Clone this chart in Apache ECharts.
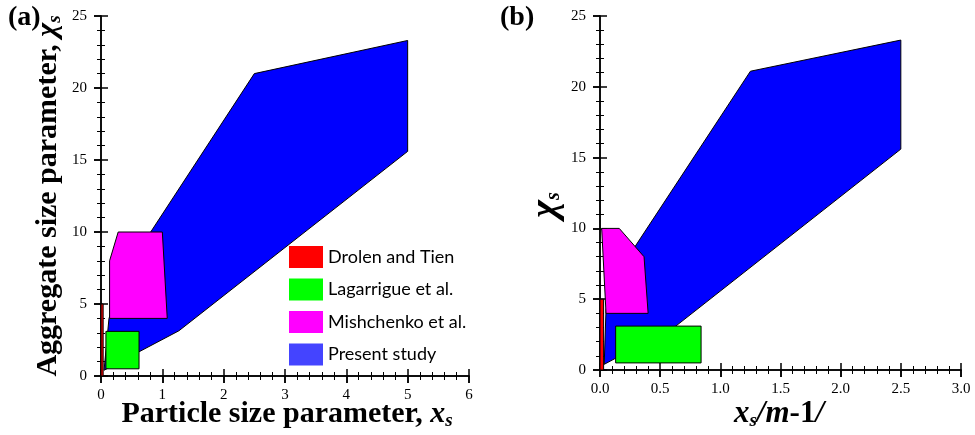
<!DOCTYPE html>
<html>
<head>
<meta charset="utf-8">
<script src="https://cdn.jsdelivr.net/npm/echarts@6/dist/echarts.min.js"></script>
<style>
  html, body { margin: 0; padding: 0; background: #fff; }
  #chart { width: 975px; height: 435px; }
</style>
</head>
<body>
<div id="chart"></div>
<script>
// Panel (a): aggregate size parameter vs particle size parameter x_s
const presentA     = [[0.05, 0.4], [0.13, 4.0], [0.47, 7.8], [0.81, 10], [2.5, 21.0], [5.0, 23.3], [5.0, 15.6], [1.27, 3.14]];
const mishchenkoA  = [[0.14, 4.0], [0.14, 8.0], [0.28, 10], [1.0, 10], [1.08, 4.0]];
const lagarrigueA  = [[0.08, 0.5], [0.08, 3.1], [0.62, 3.1], [0.62, 0.5]];
const drolenA      = [[0.0, 0.0], [0.0, 5.0], [0.035, 5.0], [0.035, 0.0]];

// Panel (b): same regions against x_s/|m-1|
const presentB     = [[0.035, 0.4], [0.05, 4.3], [0.22, 7.8], [1.25, 21.1], [2.5, 23.3], [2.5, 15.6], [0.63, 3.1]];
const mishchenkoB  = [[0.05, 4.0], [0.014, 10], [0.16, 10], [0.366, 8.0], [0.40, 4.0]];
const lagarrigueB  = [[0.13, 0.5], [0.13, 3.1], [0.84, 3.1], [0.84, 0.5]];
const drolenB      = [[0.0, 0.0], [0.0, 5.0], [0.03, 5.0], [0.03, 0.0]];

const seriesNames = ['Drolen and Tien', 'Lagarrigue et al.', 'Mishchenko et al.', 'Present study'];
const xTicksA = [0, 1, 2, 3, 4, 5, 6];
const xTicksB = [0.0, 0.5, 1.0, 1.5, 2.0, 2.5, 3.0];
const yTicks  = [0, 5, 10, 15, 20, 25];

const SERIF = '"Liberation Serif", "Times New Roman", serif';
const colors = { drolen: '#ff0000', lagarrigue: '#00ff00', mishchenko: '#ff00ff', present: '#0000ff' };

const chart = echarts.init(document.getElementById('chart'), null, { renderer: 'canvas' });

const tickLabel = (fmt) => ({
  show: true, color: '#000', fontFamily: SERIF, fontSize: 15, fontWeight: 'normal',
  formatter: fmt
});

// Three axes per direction: labelled axis with outward ticks, an inner copy
// with inward major/minor ticks, and the mirrored frame edge.
function xAxes(grid, ticks, fmt) {
  const min = ticks[0], max = ticks[ticks.length - 1], interval = ticks[1] - ticks[0];
  const line = { show: true, lineStyle: { color: '#000', width: 1.5 } };
  return [
    { type: 'value', gridIndex: grid, position: 'bottom', min, max, interval,
      axisLine: line, axisTick: { show: true, inside: false, length: 7, lineStyle: { color: '#000', width: 1.5 } },
      axisLabel: Object.assign(tickLabel(fmt), { margin: 12 }),
      splitLine: { show: false } },
    { type: 'value', gridIndex: grid, position: 'bottom', min, max, interval,
      axisLine: { show: false }, axisTick: { show: true, inside: true, length: 7, lineStyle: { color: '#000', width: 1.5 } },
      minorTick: { show: true, splitNumber: 5, length: 4, lineStyle: { color: '#000', width: 1 } },
      axisLabel: { show: false }, splitLine: { show: false } },
    { type: 'value', gridIndex: grid, position: 'top', min, max, interval,
      axisLine: line, axisTick: { show: true, inside: true, length: 7, lineStyle: { color: '#000', width: 1.5 } },
      minorTick: { show: true, splitNumber: 5, length: 4, lineStyle: { color: '#000', width: 1 } },
      axisLabel: { show: false }, splitLine: { show: false } }
  ];
}
function yAxes(grid, ticks) {
  const min = ticks[0], max = ticks[ticks.length - 1], interval = ticks[1] - ticks[0];
  const line = { show: true, lineStyle: { color: '#000', width: 1.5 } };
  return [
    { type: 'value', gridIndex: grid, position: 'left', min, max, interval,
      axisLine: line, axisTick: { show: true, inside: false, length: 7, lineStyle: { color: '#000', width: 1.5 } },
      axisLabel: Object.assign(tickLabel(v => String(v)), { margin: 14 }),
      splitLine: { show: false } },
    { type: 'value', gridIndex: grid, position: 'left', min, max, interval,
      axisLine: { show: false }, axisTick: { show: true, inside: true, length: 7, lineStyle: { color: '#000', width: 1.5 } },
      minorTick: { show: true, splitNumber: 5, length: 4, lineStyle: { color: '#000', width: 1 } },
      axisLabel: { show: false }, splitLine: { show: false } },
    { type: 'value', gridIndex: grid, position: 'right', min, max, interval,
      axisLine: line, axisTick: { show: true, inside: true, length: 7, lineStyle: { color: '#000', width: 1.5 } },
      minorTick: { show: true, splitNumber: 5, length: 4, lineStyle: { color: '#000', width: 1 } },
      axisLabel: { show: false }, splitLine: { show: false } }
  ];
}

// Filled outline drawn through the cartesian scale of its panel
function regionSeries(name, pts, color, xi, yi) {
  return {
    type: 'custom', name, xAxisIndex: xi, yAxisIndex: yi,
    data: pts, encode: { x: 0, y: 1 }, silent: true,
    itemStyle: { color },
    renderItem(params, api) {
      if (params.dataIndex !== 0) return;
      const points = pts.map(p => api.coord(p));
      return { type: 'polygon', shape: { points },
               style: { fill: color, stroke: '#000', lineWidth: 1 } };
    }
  };
}

const titleRich = {
  b:   { fontFamily: SERIF, fontWeight: 'bold', fontSize: 30, color: '#000' },
  bi:  { fontFamily: SERIF, fontWeight: 'bold', fontStyle: 'italic', fontSize: 30, color: '#000' },
  sub: { fontFamily: SERIF, fontWeight: 'bold', fontStyle: 'italic', fontSize: 19, color: '#000', padding: [14, 0, 0, 0] }
};
const titleRichB = {
  b:   { fontFamily: SERIF, fontWeight: 'bold', fontSize: 31, color: '#000' },
  bi:  { fontFamily: SERIF, fontWeight: 'bold', fontStyle: 'italic', fontSize: 31, color: '#000' },
  sub: { fontFamily: SERIF, fontWeight: 'bold', fontStyle: 'italic', fontSize: 19, color: '#000', padding: [14, 0, 0, 0] }
};
const chiRich = {
  bi:  { fontFamily: SERIF, fontWeight: 'bold', fontStyle: 'italic', fontSize: 38, color: '#000' },
  sub: { fontFamily: SERIF, fontWeight: 'bold', fontStyle: 'italic', fontSize: 20, color: '#000', padding: [16, 0, 0, 0] }
};

const option = {
  animation: false,
  backgroundColor: '#fff',
  textStyle: { fontFamily: SERIF },
  grid: [
    { left: 101, top: 16, width: 368, height: 360 },
    { left: 600, top: 16, width: 361, height: 354 }
  ],
  xAxis: [
    ...xAxes(0, xTicksA, v => String(v)),
    ...xAxes(1, xTicksB, v => v.toFixed(1))
  ],
  yAxis: [
    ...yAxes(0, yTicks),
    ...yAxes(1, yTicks)
  ],
  legend: {
    orient: 'vertical', left: 289, top: 246, padding: 0,
    itemWidth: 34, itemHeight: 22, itemGap: 10.5,
    selectedMode: false, icon: 'rect',
    textStyle: { fontFamily: 'Lato', fontSize: 18, color: '#000' },
    data: [
      { name: seriesNames[0], itemStyle: { color: colors.drolen, borderWidth: 0 } },
      { name: seriesNames[1], itemStyle: { color: colors.lagarrigue, borderWidth: 0 } },
      { name: seriesNames[2], itemStyle: { color: colors.mishchenko, borderWidth: 0 } },
      { name: seriesNames[3], itemStyle: { color: '#4444ff', borderWidth: 0 } }
    ]
  },
  graphic: [
    { type: 'text', left: 8, top: 4, style: { text: '(a)', font: 'bold 28px "Liberation Serif"', fill: '#000' } },
    { type: 'text', left: 500, top: 4, style: { text: '(b)', font: 'bold 28px "Liberation Serif"', fill: '#000' } },
    { type: 'text', x: 287, y: 414,
      style: { text: '{b|Particle size parameter, }{bi|x}{sub|s}', rich: titleRich, align: 'center', verticalAlign: 'middle' } },
    { type: 'text', x: 48, y: 196, rotation: Math.PI / 2,
      style: { text: '{b|Aggregate size parameter, }{bi|χ}{sub|s}', rich: titleRich, align: 'center', verticalAlign: 'middle' } },
    { type: 'text', x: 779, y: 414,
      style: { text: '{bi|x}{sub|s}{bi|/m}{b|-1}{bi|/}', rich: titleRichB, align: 'center', verticalAlign: 'middle' } },
    { type: 'text', x: 546, y: 205, rotation: Math.PI / 2,
      style: { text: '{bi|χ}{sub|s}', rich: chiRich, align: 'center', verticalAlign: 'middle' } }
  ],
  series: [
    regionSeries(seriesNames[3], presentA, colors.present, 0, 0),
    regionSeries(seriesNames[2], mishchenkoA, colors.mishchenko, 0, 0),
    regionSeries(seriesNames[1], lagarrigueA, colors.lagarrigue, 0, 0),
    regionSeries(seriesNames[0], drolenA, colors.drolen, 0, 0),
    regionSeries(seriesNames[3], presentB, colors.present, 3, 3),
    regionSeries(seriesNames[2], mishchenkoB, colors.mishchenko, 3, 3),
    regionSeries(seriesNames[1], lagarrigueB, colors.lagarrigue, 3, 3),
    regionSeries(seriesNames[0], drolenB, colors.drolen, 3, 3)
  ]
};
chart.setOption(option);
</script>
</body>
</html>
